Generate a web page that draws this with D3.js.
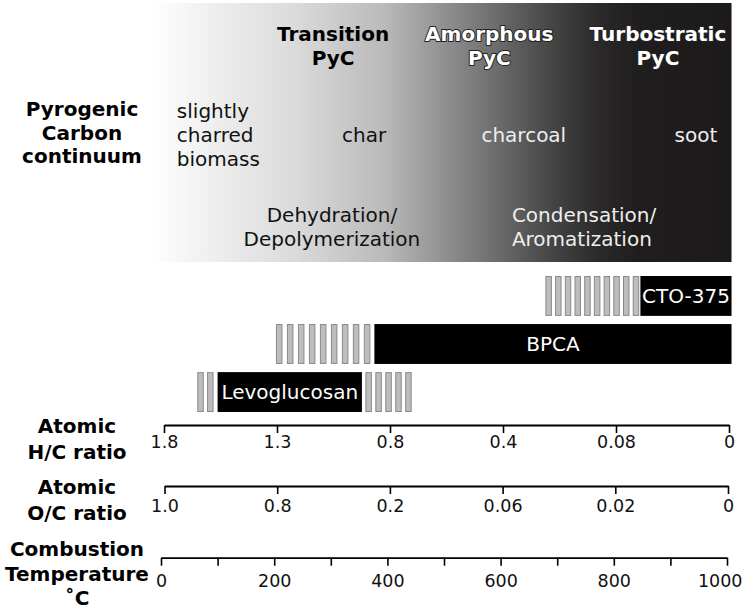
<!DOCTYPE html>
<html>
<head>
<meta charset="utf-8">
<script src="https://cdn.jsdelivr.net/npm/d3@7"></script>
<style>
  body { margin: 0; background: #fff; }
  svg text { font-family: "DejaVu Sans", Verdana, sans-serif; }
</style>
</head>
<body>
<div id="main"></div>
<script>
// --- data ---
// continuum headers, anchored along the temperature axis (deg C)
var phaseNames = [["Transition", "PyC"], ["Amorphous", "PyC"], ["Turbostratic", "PyC"]];
var phaseAt = [304, 580, 878];
var phaseColor = ["#000", "#fff", "#fff"];

var materialNames = [["slightly", "charred", "biomass"], ["char"], ["charcoal"], ["soot"]];
var materialAt = [28, 359, 641, 945];
var materialAnchor = ["start", "middle", "middle", "middle"];
var materialColor = ["#111", "#111", "#eee", "#eee"];

var processNames = [["Dehydration/", "Depolymerization"], ["Condensation/", "Aromatization"]];
var processAt = [302, 620];
var processAnchor = ["middle", "start"];
var processColor = ["#111", "#eee"];

// analytical methods: solid range and uncertain (hatched) ranges, deg C
var methods = ["CTO-375", "BPCA", "Levoglucosan"];
var methodSolid = [[847, 1008], [377, 1008], [100, 355]];
var methodHatch = [[[680, 844, 10]], [[204, 369, 9]], [[65, 92, 2], [362, 442, 5]]];

// axes
var hcTicks = ["1.8", "1.3", "0.8", "0.4", "0.08", "0"];
var ocTicks = ["1.0", "0.8", "0.2", "0.06", "0.02", "0"];
var tempTicks = [0, 100, 200, 300, 400, 500, 600, 700, 800, 900, 1000];

var W = 743, H = 610;

var svg = d3.select('#main').append('svg')
    .attr('width', W).attr('height', H);

var x = d3.scaleLinear().domain([0, 1000]).range([161, 727]);
var xHC = d3.scalePoint().domain(hcTicks).range([164, 729]);
var xOC = d3.scalePoint().domain(ocTicks).range([164.5, 728]);
var y = d3.scaleBand().domain(methods).range([276, 412]).paddingInner(0.17);

// --- gradient background ---
var grad = svg.append('defs').append('linearGradient')
    .attr('id', 'pyc').attr('x1', '0%').attr('x2', '100%');
[[0, '#ffffff'], [0.08, '#f2f2f2'], [0.25, '#dadada'], [0.4, '#bababa'],
 [0.5, '#929292'], [0.6, '#6a6a6a'], [0.685, '#474747'], [0.77, '#2b2929'],
 [0.84, '#1f1d1d'], [1, '#1c1a1a']].forEach(function(s) {
  grad.append('stop').attr('offset', s[0]).attr('stop-color', s[1]);
});

svg.append('rect')
    .attr('x', x(-16)).attr('y', 3)
    .attr('width', x(1008) - x(-16)).attr('height', 259)
    .attr('fill', 'url(#pyc)');

function multiline(g, lines, x0, y0, step) {
  var t = g.append('text').attr('x', x0).attr('y', y0);
  lines.forEach(function(l, i) {
    t.append('tspan').attr('x', x0).attr('dy', i ? step : 0).text(l);
  });
  return t;
}

var labels = svg.append('g');

phaseNames.forEach(function(p, i) {
  var t = multiline(labels, p, x(phaseAt[i]), 41, 23.5)
      .attr('text-anchor', 'middle')
      .attr('font-size', 20).attr('font-weight', 'bold')
      .attr('fill', phaseColor[i]);
  if (i > 0) {
    t.attr('stroke', '#222').attr('stroke-width', 2)
     .attr('paint-order', 'stroke').attr('stroke-linejoin', 'round');
  }
});

materialNames.forEach(function(m, i) {
  multiline(labels, m, x(materialAt[i]), m.length > 1 ? 118 : 142, 24)
      .attr('text-anchor', materialAnchor[i])
      .attr('font-size', 20).attr('fill', materialColor[i]);
});

processNames.forEach(function(p, i) {
  multiline(labels, p, x(processAt[i]), 222, 24)
      .attr('text-anchor', processAnchor[i])
      .attr('font-size', 20).attr('fill', processColor[i]);
});

// --- method bars ---
var stripeW = 5.5;
var bars = svg.append('g');

methods.forEach(function(m, i) {
  var y0 = y(m), bh = y.bandwidth();
  methodHatch[i].forEach(function(h) {
    var a = x(h[0]), b = x(h[1]), n = h[2];
    var pitch = (b - a - stripeW) / (n - 1);
    bars.selectAll(null).data(d3.range(n)).enter().append('rect')
        .attr('x', function(k) { return a + k * pitch; })
        .attr('y', y0 + 0.5)
        .attr('width', stripeW).attr('height', bh - 1)
        .attr('fill', '#bdbdbd').attr('stroke', '#8a8a8a').attr('stroke-width', 1);
  });
  var s = methodSolid[i];
  bars.append('rect')
      .attr('x', x(s[0])).attr('y', y0)
      .attr('width', x(s[1]) - x(s[0])).attr('height', bh)
      .attr('fill', '#000');
  bars.append('text')
      .attr('x', (x(s[0]) + x(s[1])) / 2).attr('y', y0 + bh / 2 + 7)
      .attr('text-anchor', 'middle').attr('font-size', 20)
      .attr('fill', '#fff').text(m);
});

// --- axes ---
function styleAxis(g) {
  g.select('.domain').attr('stroke-width', 1.8);
  g.selectAll('.tick line').attr('stroke-width', 1.6);
  g.selectAll('.tick text').attr('font-size', 17.5)
      .attr('font-family', '"DejaVu Sans", Verdana, sans-serif').attr('fill', '#111');
}

var gHC = svg.append('g').attr('transform', 'translate(0,425)')
    .call(d3.axisBottom(xHC).tickSize(8).tickSizeOuter(0).tickPadding(3));
styleAxis(gHC);

var gOC = svg.append('g').attr('transform', 'translate(0,486)')
    .call(d3.axisBottom(xOC).tickSize(8).tickSizeOuter(0).tickPadding(6));
styleAxis(gOC);

var gT = svg.append('g').attr('transform', 'translate(0,557.7)')
    .call(d3.axisBottom(x).tickValues(tempTicks).tickSize(8).tickSizeOuter(0).tickPadding(9)
      .tickFormat(function(d) { return d % 200 === 0 ? d : ''; }));
styleAxis(gT);
// last label sits flush with the right edge
gT.selectAll('.tick text').filter(function(d) { return d === 1000; })
    .attr('text-anchor', 'end').attr('x', 15);

// --- row titles ---
var titles = svg.append('g').attr('text-anchor', 'middle')
    .attr('font-size', 20).attr('font-weight', 'bold').attr('fill', '#000');
multiline(titles, ["Pyrogenic", "Carbon", "continuum"], 82, 116, 23.5);
multiline(titles, ["Atomic", "H/C ratio"], 77, 433, 26);
multiline(titles, ["Atomic", "O/C ratio"], 77, 494, 26);
multiline(titles, ["Combustion", "Temperature", "\u02daC"], 77, 556, 24.5);
</script>
</body>
</html>
